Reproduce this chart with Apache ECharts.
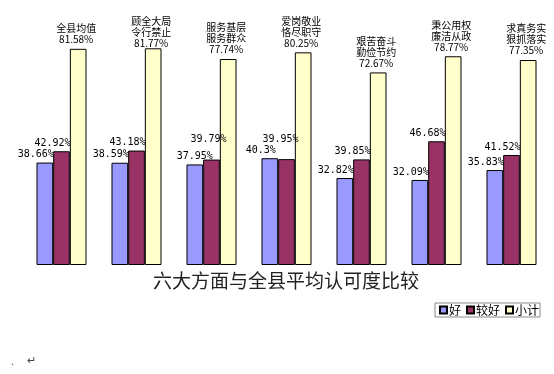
<!DOCTYPE html>
<html>
<head>
<meta charset="utf-8">
<script src="https://cdn.jsdelivr.net/npm/echarts@6/dist/echarts.min.js"></script>
<style>html,body{margin:0;padding:0;background:#fff;}#c{width:554px;height:374px;}</style>
</head>
<body>
<div id="c"></div>
<script>
var categories = ['全县均值', '顾全大局\n令行禁止', '服务基层\n服务群众', '爱岗敬业\n恪尽职守', '艰苦奋斗\n勤俭节约', '秉公用权\n廉洁从政', '求真务实\n狠抓落实'];
var good = [38.66, 38.59, 37.95, 40.3, 32.82, 32.09, 35.83];
var better = [42.92, 43.18, 39.79, 39.95, 39.85, 46.68, 41.52];
var subtotal = [81.58, 81.77, 77.74, 80.25, 72.67, 78.77, 77.35];
var goodLabels = ['38.66%', '38.59%', '37.95%', '40.3%', '32.82%', '32.09%', '35.83%'];
var betterLabels = ['42.92%', '43.18%', '39.79%', '39.95%', '39.85%', '46.68%', '41.52%'];
var subtotalLabels = ['81.58%', '81.77%', '77.74%', '80.25%', '72.67%', '78.77%', '77.35%'];
var seriesNames = ['好', '较好', '小计'];
var titleText = '六大方面与全县平均认可度比较';

// label placement tweaks (styling only)
function goodOffset(i) { return i === 2 ? [0, 0] : [-9, 0]; }
function betterOffset(i) { return i === 2 ? [-3, -12] : (i === 3 ? [-6, -12] : [-9, 0]); }
function subOffset(i) { return i === 1 ? [-2, 4] : [-2, 0]; }

function items(values, offsetFn) {
  return values.map(function (v, i) { return {value: v, label: {offset: offsetFn(i)}}; });
}

var chart = echarts.init(document.getElementById('c'));
var numFont = 'DejaVu Sans Mono, monospace';
chart.setOption({
  backgroundColor: '#fff',
  animation: false,
  title: {
    text: titleText, left: 153, top: 271, padding: 0,
    textStyle: {fontSize: 19, fontWeight: 'normal', color: '#222', fontFamily: 'Noto Sans CJK SC'}
  },
  legend: {
    data: seriesNames, left: 435, top: 303, padding: [1, 1, 1, 4],
    borderColor: '#888', borderWidth: 1, itemWidth: 7, itemHeight: 7, itemGap: 5,
    icon: 'rect',
    textStyle: {fontSize: 12, color: '#000', padding: [0, 0, 0, -3], fontFamily: 'Noto Sans CJK SC'}
  },
  grid: {left: 24, right: 5, top: 0, bottom: 109},
  xAxis: {type: 'category', data: categories, show: false},
  yAxis: {type: 'value', min: 0, max: 100, show: false},
  graphic: [{type: 'text', left: 10, top: 355, style: {text: '、  ↵', fontSize: 11, fill: '#444'}}],
  series: [
    {name: '好', type: 'bar', data: items(good, goodOffset), barGap: 0, barCategoryGap: '33.3%',
     itemStyle: {color: '#9999FF', borderColor: '#000', borderWidth: 1},
     label: {show: true, position: 'top', distance: 3, fontSize: 10, color: '#000', fontFamily: numFont,
       formatter: function (p) { return goodLabels[p.dataIndex]; }}},
    {name: '较好', type: 'bar', data: items(better, betterOffset),
     itemStyle: {color: '#993366', borderColor: '#000', borderWidth: 1},
     label: {show: true, position: 'top', distance: 3, fontSize: 10, color: '#000', fontFamily: numFont,
       formatter: function (p) { return betterLabels[p.dataIndex]; }}},
    {name: '小计', type: 'bar', data: items(subtotal, subOffset),
     itemStyle: {color: '#FFFFCC', borderColor: '#000', borderWidth: 1},
     label: {show: true, position: 'top', distance: 4, fontSize: 10, lineHeight: 11, color: '#000', fontFamily: 'Noto Sans CJK SC',
       formatter: function (p) { return categories[p.dataIndex] + '\n' + subtotalLabels[p.dataIndex]; }}}
  ]
});
</script>
</body>
</html>
